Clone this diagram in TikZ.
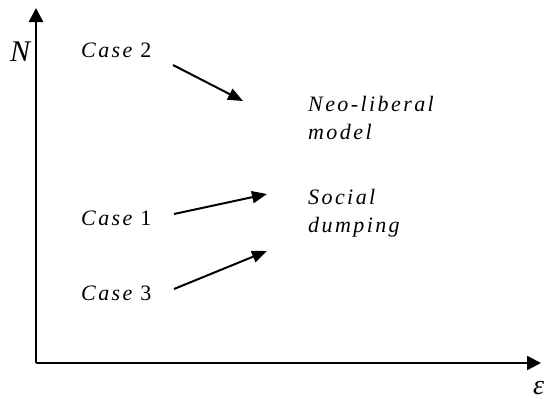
\documentclass[tikz,border=0pt]{standalone}
\usepackage{fontspec}
\setmainfont{Liberation Serif}
\newfontfamily\spaced[LetterSpace=11]{Liberation Serif}
\usetikzlibrary{arrows.meta}
\begin{document}
\begin{tikzpicture}[x=1pt,y=-1pt,
  axis/.style={line width=2.4pt,-{Triangle[length=14pt,width=14pt]}},
  shift arrow/.style={line width=2pt,-{Triangle[length=15pt,width=12pt]}},
  lbl/.style={inner sep=0pt,anchor=base west,font=\fontsize{22}{28}\selectfont\spaced\itshape,align=left},
  axlbl/.style={inner sep=0pt,anchor=base west,font=\fontsize{28}{28}\selectfont\itshape}]
\useasboundingbox (0,0) rectangle (552,399);
\coordinate (O) at (36,363);
\coordinate (ytip) at (36,8);
\coordinate (xtip) at (541,363);
\draw[axis] (O) -- (ytip);
\draw[axis] (O) -- (xtip);
\node[axlbl,font=\fontsize{30}{30}\selectfont\itshape] (N) at (10,61) {N};
\node[axlbl] (eps) at (533,394) {ε};
\node[lbl] (c2) at (81,57) {Case {\upshape 2}};
\node[lbl] (c1) at (81,225) {Case {\upshape 1}};
\node[lbl] (c3) at (81,300) {Case {\upshape 3}};
\node[lbl] (neo) at (308,139) {Neo-liberal\\model};
\node[lbl] (soc) at (308,232) {Social\\dumping};
\coordinate (a2s) at (173,65);
\coordinate (a2e) at (243,101);
\coordinate (a1s) at (174,214);
\coordinate (a1e) at (267,194);
\coordinate (a3s) at (174,289);
\coordinate (a3e) at (267,251);
\draw[shift arrow] (a2s) -- (a2e);
\draw[shift arrow] (a1s) -- (a1e);
\draw[shift arrow] (a3s) -- (a3e);
\end{tikzpicture}
\end{document}
